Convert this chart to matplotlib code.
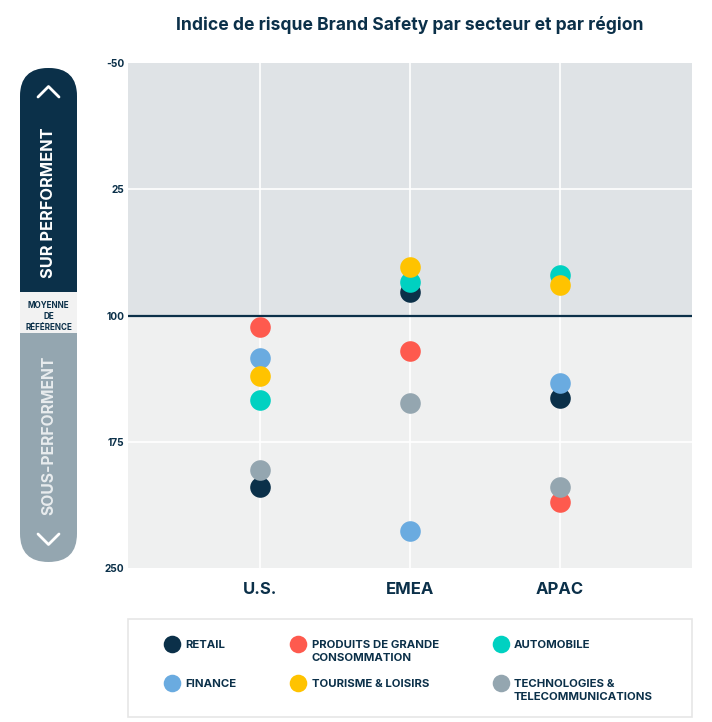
import matplotlib
matplotlib.use("Agg")
import matplotlib.pyplot as plt
from matplotlib.patches import FancyBboxPatch, Rectangle

plt.rcParams['font.family'] = ['Inter', 'DejaVu Sans']

regions = ["U.S.", "EMEA", "APAC"]
sectors = ["RETAIL", "PRODUITS DE GRANDE\nCONSOMMATION", "AUTOMOBILE",
           "FINANCE", "TOURISME & LOISIRS", "TECHNOLOGIES &\nTELECOMMUNICATIONS"]
colors = ["#0b3049", "#fe5a4e", "#00d1c1", "#6aabe0", "#ffc300", "#94a6b0"]
retail = [202, 86, 149]
produits = [107, 121, 211]
automobile = [150, 80, 76]
finance = [125, 228, 140]
tourisme = [136, 71, 82]
tech = [192, 152, 202]
series = [retail, produits, automobile, finance, tourisme, tech]
yticks = [-50, 25, 100, 175, 250]
reference = 100

NAVY = "#0b3049"
W, H = 712, 722
fig = plt.figure(figsize=(W / 100, H / 100), dpi=100)
fig.patch.set_facecolor("white")

# overlay axes in pixel coordinates
ov = fig.add_axes([0, 0, 1, 1], zorder=0)
ov.set_xlim(0, W)
ov.set_ylim(H, 0)
ov.axis("off")

ax = fig.add_axes([128 / W, 1 - 568 / H, (692 - 128) / W, (568 - 63) / H], zorder=1)
ax.set_ylim(250, -50)
ax.set_xlim(-0.88, 2.88)
ax.axhspan(-50, reference, color="#dfe3e6", zorder=0, lw=0)
ax.axhspan(reference, 250, color="#eff0f0", zorder=0, lw=0)
for x in range(len(regions)):
    ax.axvline(x, color="white", lw=1.2, zorder=1)
for y in yticks[1:-1]:
    if y != reference:
        ax.axhline(y, color="white", lw=1.2, zorder=1)
ax.axhline(reference, color=NAVY, lw=1.6, zorder=2)

for vals, c in zip(series, colors):
    ax.scatter(range(len(regions)), vals, s=220, color=c, zorder=3, lw=0)

ax.set_xticks(range(len(regions)))
ax.set_xticklabels(regions, fontsize=12, fontweight="bold", color=NAVY)
ax.set_yticks(yticks)
ax.set_yticklabels([str(v) for v in yticks], fontsize=7.3, fontweight="bold", color=NAVY)
ax.tick_params(axis="y", length=0, pad=2.5)
ax.tick_params(axis="x", length=0, pad=10)
for s in ax.spines.values():
    s.set_visible(False)

fig.text(410 / W, 1 - 25 / H, "Indice de risque Brand Safety par secteur et par région",
         ha="center", va="center", fontsize=12.6, fontweight="bold", color=NAVY)

# sidebar pill
px0, px1, py0, py1 = 20, 77, 68, 562
r = (px1 - px0) / 2
pill = FancyBboxPatch((px0, py0), px1 - px0, py1 - py0,
                      boxstyle=f"round,pad=0,rounding_size={r}",
                      fc="#94a6b0", ec="none", zorder=1)
ov.add_patch(pill)
top = Rectangle((px0, py0), px1 - px0, 292 - py0, fc=NAVY, ec="none", zorder=2)
ov.add_patch(top)
top.set_clip_path(pill)
mid = Rectangle((px0, 292), px1 - px0, 41, fc="#f2f2f2", ec="none", zorder=2)
ov.add_patch(mid)
for yy, t in zip([305.5, 316.5, 327.5], ["MOYENNE", "DE", "RÉFÉRENCE"]):
    ov.text(48.5, yy, t, ha="center", va="center", fontsize=5.8,
            fontweight="bold", color=NAVY, zorder=3)
ov.text(48.5, 203, "SUR PERFORMENT", rotation=90, ha="center", va="center",
        fontsize=11.8, fontweight="bold", color="white", zorder=3)
ov.text(48.5, 435, "SOUS-PERFORMENT", rotation=90, ha="center", va="center",
        fontsize=11.3, fontweight="bold", color="#e8ecee", zorder=3)
ov.plot([38, 48.5, 59], [97, 86.5, 97], color="white", lw=2, zorder=3, solid_capstyle="round")
ov.plot([38, 48.5, 59], [534, 544.5, 534], color="white", lw=2, zorder=3, solid_capstyle="round")

# legend box
ov.add_patch(Rectangle((128, 619), 564, 98, fc="white", ec="#e6e6e6", lw=1.2, zorder=1))
mx = [172, 298, 501]
tx = [185, 312, 514]
my = [644, 683]
fs = 8.2
cap = 0.727 * fs * 100 / 72
for i, (lab, c) in enumerate(zip(sectors, colors)):
    row, col = divmod(i, 3)
    ov.scatter(mx[col], my[row], s=160, color=c, lw=0, zorder=3)
    for k, line in enumerate(lab.split("\n")):
        ov.text(tx[col], my[row] + cap / 2 + 13 * k, line, ha="left", va="baseline",
                fontsize=fs, fontweight="bold", color=NAVY, zorder=3)

fig.savefig("out.png", dpi=100)
